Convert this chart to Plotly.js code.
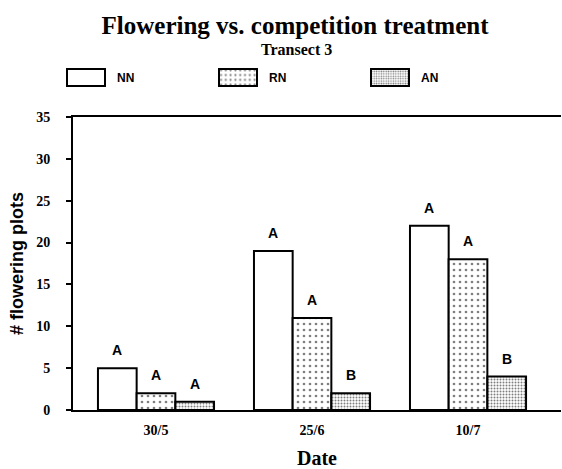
<!DOCTYPE html>
<html>
<head>
<meta charset="utf-8">
<script src="https://cdn.plot.ly/plotly-3.0.1.min.js"></script>
<style>
html,body{margin:0;padding:0;background:#fff;}
#chart{width:562px;height:469px;}
</style>
</head>
<body>
<div id="chart"></div>
<script>
const categories = ['30/5', '25/6', '10/7'];
const seriesNames = ['NN', 'RN', 'AN'];
const nnValues = [5, 19, 22];
const rnValues = [2, 11, 18];
const anValues = [1, 2, 4];
const nnLetters = ['A', 'A', 'A'];
const rnLetters = ['A', 'A', 'A'];
const anLetters = ['A', 'B', 'B'];
const yTicks = [0, 5, 10, 15, 20, 25, 30, 35];

const serif = 'Liberation Serif, Times New Roman, serif';
const sans = 'Liberation Sans, Arial, sans-serif';

const allValues = [nnValues, rnValues, anValues];
const allLetters = [nnLetters, rnLetters, anLetters];
const patterns = [
  null,
  {shape: '.', size: 6, solidity: 0.16, fgcolor: '#000', bgcolor: '#fff', fillmode: 'overlay'},
  {shape: '.', size: 3, solidity: 0.35, fgcolor: '#000', bgcolor: '#fff', fillmode: 'overlay'}
];

const traces = seriesNames.map((name, k) => {
  const marker = {color: '#fff', line: {color: '#000', width: 2}};
  if (patterns[k]) marker.pattern = patterns[k];
  return {type: 'bar', name: name, x: categories, y: allValues[k], marker: marker, hoverinfo: 'skip'};
});

const margin = {l: 73, r: 1, t: 117, b: 59};
const xRange = [-0.532, 2.596];
const bargap = 0.256;
const plotW = 562 - margin.l - margin.r;
const pxPerCat = plotW / (xRange[1] - xRange[0]);
const barPx = pxPerCat * (1 - bargap) / seriesNames.length;

const annotations = [];
seriesNames.forEach((name, k) => {
  categories.forEach((c, i) => {
    annotations.push({
      x: c, y: allValues[k][i], xref: 'x', yref: 'y',
      text: '<b>' + allLetters[k][i] + '</b>', showarrow: false,
      xanchor: 'center', yanchor: 'bottom',
      xshift: (k - 1) * barPx, yshift: 8,
      font: {family: sans, size: 14, color: '#000'}
    });
  });
});
annotations.push({
  text: '<b>Transect 3</b>', xref: 'paper', yref: 'paper',
  x: (296 - margin.l) / plotW, y: 1 + (117 - 49) / 293,
  xanchor: 'center', yanchor: 'middle', showarrow: false,
  font: {family: serif, size: 16, color: '#000'}
});

const layout = {
  width: 562, height: 469,
  margin: margin,
  paper_bgcolor: '#fff', plot_bgcolor: '#fff',
  barmode: 'group', bargap: bargap, bargroupgap: 0,
  title: {
    text: '<b>Flowering vs. competition treatment</b>',
    x: 295 / 562, xanchor: 'center', xref: 'container',
    y: 1 - 25 / 469, yanchor: 'middle', yref: 'container',
    font: {family: serif, size: 25, color: '#000'}
  },
  showlegend: true,
  legend: {
    orientation: 'h', x: (61 - margin.l) / plotW, xanchor: 'left',
    y: 1 + (117 - 77.5) / 293, yanchor: 'middle',
    entrywidth: 107, entrywidthmode: 'pixels',
    font: {family: sans, size: 12, color: '#000', weight: 'bold'},
    bgcolor: 'rgba(0,0,0,0)', borderwidth: 0, traceorder: 'normal'
  },
  xaxis: {
    type: 'category', range: xRange,
    showline: true, linecolor: '#000', linewidth: 2, mirror: true,
    ticks: '', showgrid: false, zeroline: false,
    tickfont: {family: serif, size: 14, color: '#000', weight: 'bold'},
    ticklabelstandoff: 6,
    title: {text: '<b>Date</b>', font: {family: serif, size: 20, color: '#000'}, standoff: 14}
  },
  yaxis: {
    range: [0, 35], tickvals: yTicks, ticktext: yTicks.map(String),
    showline: true, linecolor: '#000', linewidth: 2, mirror: false,
    ticks: 'outside', ticklen: 5, tickwidth: 2, tickcolor: '#000',
    showgrid: false, zeroline: false,
    tickfont: {family: serif, size: 14, color: '#000', weight: 'bold'},
    ticklabelstandoff: 13,
    title: {text: '<b># flowering plots</b>', font: {family: sans, size: 18, color: '#000'}, standoff: 8}
  },
  annotations: annotations
};

Plotly.newPlot('chart', traces, layout, {displayModeBar: false, staticPlot: true}).then(gd => {
  gd.querySelectorAll('.legend .legendpoints path').forEach(p => {
    p.setAttribute('d', 'M-14,8.5V-8.5H24V8.5Z');
    p.style.strokeWidth = '2px';
  });
  gd.querySelectorAll('.legend text.legendtext').forEach(t => {
    t.setAttribute('x', '56');
  });
});
</script>
</body>
</html>
